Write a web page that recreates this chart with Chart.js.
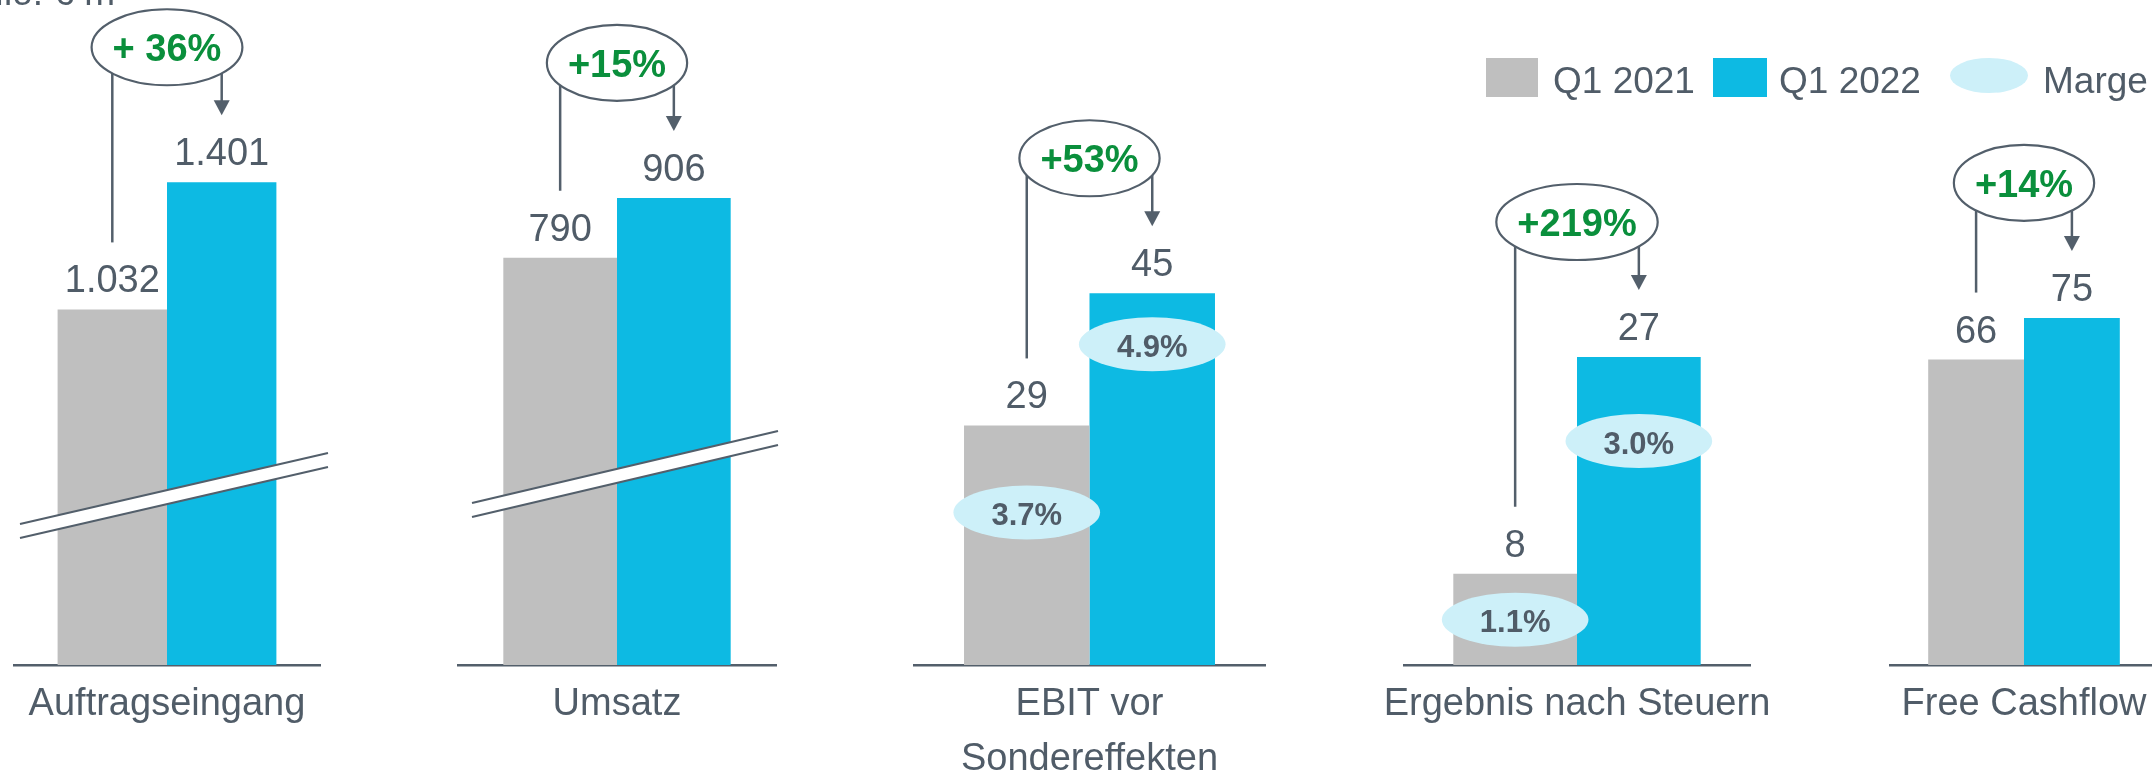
<!DOCTYPE html>
<html><head><meta charset="utf-8">
<script src="https://cdn.jsdelivr.net/npm/chart.js@4/dist/chart.umd.min.js"></script>
<style>
html,body{margin:0;padding:0;width:2152px;height:774px;overflow:hidden;background:#fff;font-family:"Liberation Sans",Arial,sans-serif;}
canvas{position:absolute;top:0;}
.t{position:absolute;font-size:37px;line-height:37px;color:#505c68;white-space:nowrap;}
.box{position:absolute;}
</style></head><body>
<script>
// ---- data ----
const categories = [['Auftragseingang'], ['Umsatz'], ['EBIT vor', 'Sondereffekten'], ['Ergebnis nach Steuern'], ['Free Cashflow']];
const q1_2021 = [1032, 790, 29, 8, 66];
const q1_2022 = [1401, 906, 45, 27, 75];
const growth = ['+ 36%', '+15%', '+53%', '+219%', '+14%'];
const marge2021 = [null, null, 3.7, 1.1, null];
const marge2022 = [null, null, 4.9, 3.0, null];
const seriesLabels = ['Q1 2021', 'Q1 2022', 'Marge'];
const unitLabel = 'Mio. € m';

// ---- styles / layout ----
const GRAY = '#bfbfbf', BLUE = '#0dbae3', LIGHT = '#cdf0f9', TXT = '#505c68', AX = '#535f6b', GREEN = '#0a8f3c';
const FONT = '"Liberation Sans", Arial, sans-serif';
const PAD = 70;
const layout = [
  {axisL: 14,   axisR: 320,  yMax: 1930,  brk: [6, 141, 8, 212]},
  {axisL: 458,  axisR: 776,  yMax: 1290,  brk: [14, 162, 2, 234]},
  {axisL: 914,  axisR: 1265, yMax: 80.5,  mOff: [87, 51]},
  {axisL: 1404, axisR: 1750, yMax: 58.3,  mOff: [46, 84]},
  {axisL: 1890, axisR: 2158, yMax: 143.7}
];

function fmt(v) { return String(v).replace(/\B(?=(\d{3})+(?!\d))/g, '.'); }
function fmtPct(v) { return v.toFixed(1) + '%'; }

function ellipse(ctx, cx, cy, rx, ry) { ctx.beginPath(); ctx.ellipse(cx, cy, rx, ry, 0, 0, Math.PI * 2); }

const deco = {
  id: 'deco',
  afterDatasetsDraw(chart, args, o) {
    const ctx = chart.ctx, ca = chart.chartArea, i = o.idx, L = layout[i];
    const b0 = chart.getDatasetMeta(0).data[0], b1 = chart.getDatasetMeta(1).data[0];
    ctx.save();
    // axis break
    if (L.brk) {
      const [dl, yl, dr, yr] = L.brk, base = ca.bottom, th = 14;
      const x0 = ca.left + dl, x1 = ca.right + dr;
      ctx.fillStyle = '#fff';
      ctx.beginPath();
      ctx.moveTo(x0, base - yl); ctx.lineTo(x1, base - yr); ctx.lineTo(x1, base - yr + th); ctx.lineTo(x0, base - yl + th); ctx.closePath();
      ctx.fill();
      ctx.strokeStyle = AX; ctx.lineWidth = 2;
      ctx.beginPath(); ctx.moveTo(x0, base - yl); ctx.lineTo(x1, base - yr); ctx.stroke();
      ctx.beginPath(); ctx.moveTo(x0, base - yl + th); ctx.lineTo(x1, base - yr + th); ctx.stroke();
    }
    // margins
    if (L.mOff) {
      [[b0, marge2021[i], L.mOff[0]], [b1, marge2022[i], L.mOff[1]]].forEach(([b, m, off]) => {
        if (m == null) return;
        ctx.font = 'bold 31px ' + FONT;
        const s = fmtPct(m), tw = ctx.measureText(s).width;
        const cy = b.y + off;
        ctx.fillStyle = LIGHT; ellipse(ctx, b.x, cy, tw / 2 + 38, 27); ctx.fill();
        ctx.fillStyle = TXT; ctx.textAlign = 'center'; ctx.textBaseline = 'alphabetic';
        ctx.fillText(s, b.x, cy + 12.5);
      });
    }
    // value labels
    ctx.font = '38px ' + FONT; ctx.fillStyle = TXT; ctx.textAlign = 'center'; ctx.textBaseline = 'alphabetic';
    ctx.fillText(fmt(q1_2021[i]), b0.x, b0.y - 17);
    ctx.fillText(fmt(q1_2022[i]), b1.x, b1.y - 17);
    // growth bubble
    ctx.font = 'bold 38px ' + FONT;
    const g = growth[i], gw = ctx.measureText(g).width;
    const cx = (b0.x + b1.x) / 2, cy = b1.y - 135, rx = gw / 2 + 21, ry = 38;
    ctx.strokeStyle = AX; ctx.lineWidth = 2.2;
    ellipse(ctx, cx, cy, rx, ry); ctx.stroke();
    ctx.fillStyle = GREEN; ctx.fillText(g, cx, cy + 14);
    const ey = x => cy + ry * Math.sqrt(Math.max(0, 1 - Math.pow((x - cx) / rx, 2)));
    ctx.lineWidth = 2.5;
    ctx.beginPath(); ctx.moveTo(b0.x, ey(b0.x)); ctx.lineTo(b0.x, b0.y - 67); ctx.stroke();
    const tip = b1.y - 67;
    ctx.beginPath(); ctx.moveTo(b1.x, ey(b1.x)); ctx.lineTo(b1.x, tip - 14); ctx.stroke();
    ctx.fillStyle = AX;
    ctx.beginPath(); ctx.moveTo(b1.x - 8, tip - 15); ctx.lineTo(b1.x + 8, tip - 15); ctx.lineTo(b1.x, tip); ctx.closePath(); ctx.fill();
    ctx.restore();
  }
};

layout.forEach((L, i) => {
  const w = L.axisR - L.axisL + 2 * PAD;
  const cv = document.createElement('canvas');
  cv.width = w; cv.height = 774;
  cv.style.left = (L.axisL - PAD) + 'px'; cv.style.width = w + 'px'; cv.style.height = '774px';
  document.body.appendChild(cv);
  new Chart(cv, {
    type: 'bar',
    data: {
      labels: [categories[i]],
      datasets: [
        {label: seriesLabels[0], data: [q1_2021[i]], backgroundColor: GRAY, barPercentage: 1, categoryPercentage: 0.715},
        {label: seriesLabels[1], data: [q1_2022[i]], backgroundColor: BLUE, barPercentage: 1, categoryPercentage: 0.715}
      ]
    },
    options: {
      responsive: false, animation: false, devicePixelRatio: 1,
      layout: {padding: {left: PAD, right: PAD, top: 0, bottom: 0}},
      plugins: {legend: {display: false}, tooltip: {enabled: false}, deco: {idx: i}},
      scales: {
        x: {
          grid: {display: false, drawTicks: false},
          border: {display: true, color: AX, width: 2.5},
          ticks: {color: TXT, font: {family: FONT, size: 38, lineHeight: 1.45}, padding: 12, maxRotation: 0, minRotation: 0, autoSkip: false},
          afterFit: s => { s.height = 109; }
        },
        y: {display: false, min: 0, max: L.yMax}
      }
    },
    plugins: [deco]
  });
});

// legend & unit label (HTML text)
function add(html, style, cls) { const d = document.createElement('div'); d.className = cls; d.style.cssText = style; d.textContent = html; document.body.appendChild(d); }
add(unitLabel, 'right:2037px;top:-26px;', 't');
add('', 'left:1486px;top:58px;width:52px;height:39px;background:' + GRAY, 'box');
add(seriesLabels[0], 'left:1553px;top:62px;', 't');
add('', 'left:1713px;top:58px;width:54px;height:39px;background:' + BLUE, 'box');
add(seriesLabels[1], 'left:1779px;top:62px;', 't');
add('', 'left:1950px;top:58px;width:78px;height:35px;border-radius:50%;background:' + LIGHT, 'box');
add(seriesLabels[2], 'left:2043px;top:62px;', 't');
</script>
</body></html>
